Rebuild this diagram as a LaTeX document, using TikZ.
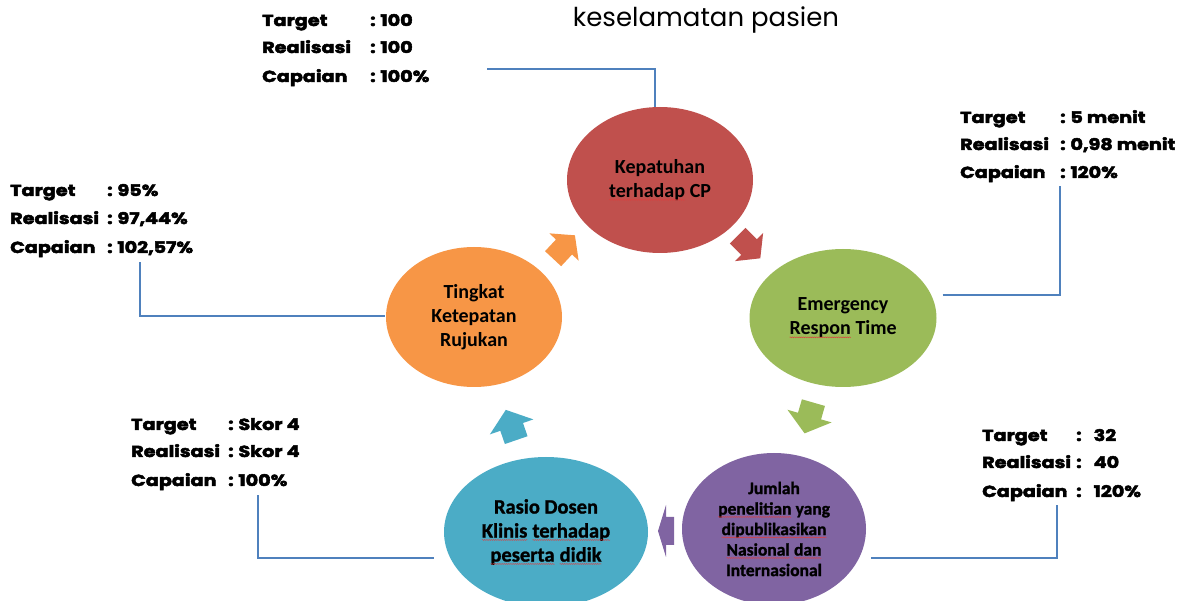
\documentclass[tikz,border=0pt]{standalone}
\usepackage{fontspec}
\setmainfont{Carlito}
\newfontfamily\statfont{Poppins}[FakeStretch=1.2,BoldFeatures={FakeBold=3}]
\newfontfamily\titlefont{Poppins}
\newfontfamily\heavycal{Carlito}[BoldFeatures={FakeBold=1.2}]
\usetikzlibrary{shapes.geometric,decorations.pathmorphing}

\definecolor{kred}{RGB}{192,80,77}
\definecolor{kgreen}{RGB}{155,187,89}
\definecolor{korange}{RGB}{247,150,70}
\definecolor{kblue}{RGB}{75,172,198}
\definecolor{kpurple}{RGB}{128,100,162}
\definecolor{kline}{RGB}{79,129,189}
\definecolor{spellred}{RGB}{224,60,60}

% wavy proofing mark under a word
\newcommand\wavy[1]{\tikz[baseline=(w.base)]{%
  \node[rectangle,minimum width=0pt,minimum height=0pt,inner sep=0pt,
        outer sep=0pt,draw=none,fill=none,anchor=center](w){#1};
  \draw[spellred,line width=0.45pt,fill=none,decorate,
        decoration={snake,amplitude=0.45pt,segment length=2.2pt}]
       ([yshift=-2.4pt]w.base west)--([yshift=-2.4pt]w.base east);}}

% block arrow: colour, centre x, centre y, angle, length, head width, body width, head length
\newcommand\blockarrow[8]{%
  \fill[#1,shift={(#2,#3)},rotate=#4]
    ({-#5/2},{-#7/2}) -- ({#5/2-#8},{-#7/2}) -- ({#5/2-#8},{-#6/2}) --
    ({#5/2},0) -- ({#5/2-#8},{#6/2}) -- ({#5/2-#8},{#7/2}) --
    ({-#5/2},{#7/2}) -- cycle;}

% one row of a result block: name, label x, baseline y, label, colon x, value
\newcommand\statrow[6]{%
  \node[stat] (#1l) at (#2,#3) {#4};
  \node[stat] (#1v) at (#5,#3) {:\hspace{0.3em}#6};}

\tikzset{
  ell/.style={ellipse,draw=none,inner sep=0pt,align=center,text=black},
  big/.style={font=\bfseries\fontsize{20}{24}\selectfont},
  mid/.style={font=\heavycal\bfseries\fontsize{20.5}{24}\selectfont},
  small/.style={font=\heavycal\bfseries\fontsize{17.5}{20.5}\selectfont},
  stat/.style={anchor=base west,inner sep=0pt,
               font=\statfont\bfseries\fontsize{16}{16}\selectfont},
  conn/.style={draw=kline,line width=1.5pt}
}

\begin{document}
\begin{tikzpicture}[x=1pt,y=-1pt]
\useasboundingbox (0,0) rectangle (1179,601);

% title
\node[font=\titlefont\fontsize{26}{26}\selectfont,anchor=center] (title) at (706,20) {keselamatan pasien};

% indicator ellipses
\node[ell,big,fill=kred,minimum width=186pt,minimum height=146pt] (kep) at (660,180)
  {Kepatuhan\\\wavy{terhadap} CP};
\node[ell,big,fill=kgreen,minimum width=187pt,minimum height=138pt] (em) at (843,318)
  {Emergency\\\wavy{Respon} Time};
\node[ell,big,fill=korange,minimum width=176pt,minimum height=140pt] (ting) at (474,317)
  {Tingkat\\Ketepatan\\Rujukan};
\node[ell,mid,fill=kblue,minimum width=204pt,minimum height=150pt] (rasio) at (546,532)
  {Rasio Dosen\\\wavy{Klinis} \wavy{terhadap}\\\wavy{peserta} \wavy{didik}};
\node[ell,small,fill=kpurple,minimum width=184pt,minimum height=152pt] (jum) at (774,529)
  {Jumlah\\\wavy{penelitian} yang\\\wavy{dipublikasikan}\\\wavy{Nasional} \wavy{dan}\\Internasional};

% cycle arrows
\blockarrow{korange}{564}{247}{47}{32}{40}{22}{16}
\blockarrow{kred}{749}{247}{-45}{32}{40}{22}{16}
\blockarrow{kgreen}{809}{418}{-106}{32}{46}{24}{18}
\blockarrow{kpurple}{666}{531}{180}{16}{52}{28}{8}
\blockarrow{kblue}{511}{425}{109}{32}{46}{24}{18}

% result blocks
\statrow{ta}{262}{26}{Target}{370}{100}
\statrow{tb}{262}{53}{Realisasi}{370}{100}
\statrow{tc}{262}{82}{Capaian}{370}{100\%}

\statrow{la}{10}{196}{Target}{107}{95\%}
\statrow{lb}{10}{224}{Realisasi}{107}{97,44\%}
\statrow{lc}{10}{253}{Capaian}{107}{102,57\%}

\statrow{ra}{960}{123}{Target}{1060}{5 menit}
\statrow{rb}{960}{150}{Realisasi}{1060}{0,98 menit}
\statrow{rc}{960}{178}{Capaian}{1060}{120\%}

\statrow{ba}{131}{430}{Target}{228}{Skor 4}
\statrow{bb}{131}{457}{Realisasi}{228}{Skor 4}
\statrow{bc}{131}{486}{Capaian}{228}{100\%}

\statrow{pa}{982}{441}{Target}{1076}{\hspace{0.45em}32}
\statrow{pb}{982}{468}{Realisasi}{1076}{\hspace{0.45em}40}
\statrow{pc}{982}{497}{Capaian}{1076}{\hspace{0.45em}120\%}

% leader lines from ellipses to result blocks
\coordinate (tC) at (487,69);
\coordinate (rtC) at (1060,186);
\coordinate (lC) at (140,262);
\coordinate (lbC) at (258,495);
\coordinate (rbC) at (1057,505);
\draw[conn] (tC) -| ([xshift=-5pt]kep.north);
\draw[conn] ([shift={(6,-23)}]em.east) -| (rtC);
\draw[conn] ([shift={(-1,-1)}]ting.west) -| (lC);
\draw[conn] ([shift={(-10,26)}]rasio.west) -| (lbC);
\draw[conn] ([shift={(5,29)}]jum.east) -| (rbC);
\end{tikzpicture}
\end{document}
